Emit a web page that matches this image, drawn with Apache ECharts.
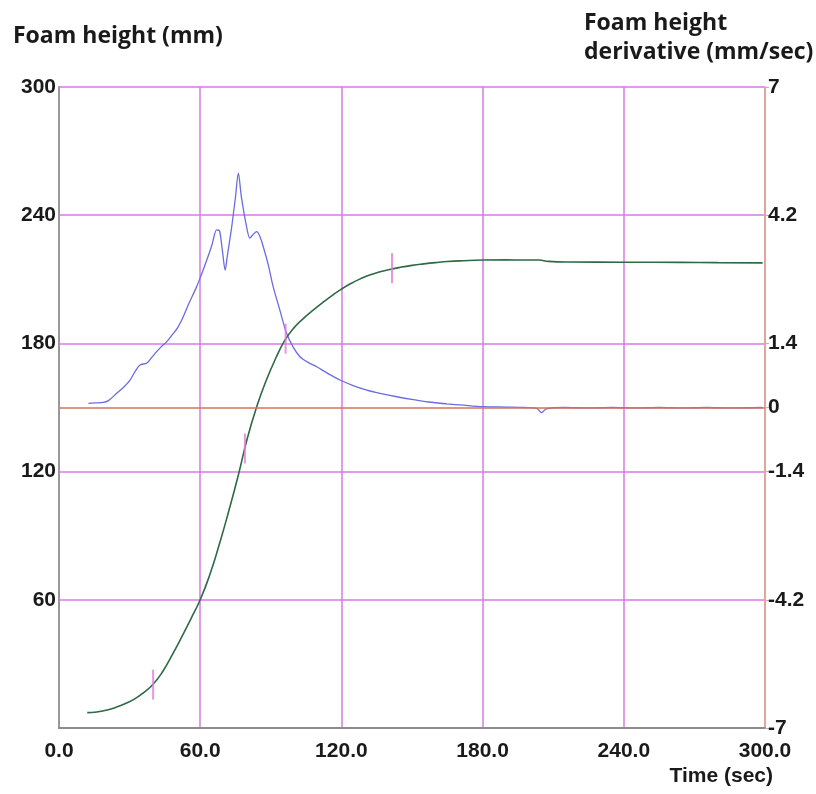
<!DOCTYPE html>
<html>
<head>
<meta charset="utf-8">
<script src="https://cdn.jsdelivr.net/npm/echarts@6/dist/echarts.min.js"></script>
<style>
html,body{margin:0;padding:0;background:#fff;}
#chart{width:816px;height:794px;}
</style>
</head>
<body>
<div id="chart"></div>
<script>
// Foam height (mm) vs time (sec)  -> left axis
const heightData = [
  [12,7.2],[16,7.5],[20,8.3],[24,9.6],[28,11.3],[32,13.5],[36,16.6],[40,20.5],[44,26.3],
  [48,34],[52,42.3],[56,51],[60,60],[64,71.5],[68,85.5],[72,101],[76,117.5],[80,135.5],
  [84,150.3],[88,162.5],[92,172.8],[96,181.5],[100,187.5],[104,191.8],[108,195.6],
  [112,199.1],[116,202.4],[120,205.4],[124,208.0],[128,210.2],[132,212.0],[136,213.4],
  [140,214.5],[145,215.6],[150,216.5],[155,217.2],[160,217.8],[165,218.3],[172,218.7],
  [180,219.0],[190,219.1],[198,219.0],[204,219.0],[208,218.4],[217,218.1],[240,218.0],
  [264,217.9],[280,217.8],[299,217.7]
];
// Foam height derivative (mm/sec) vs time (sec) -> right axis
const derivData = [
  [12.5,0.09],[15,0.1],[18.8,0.11],[21,0.15],[24.5,0.31],[27,0.42],[30.2,0.6],[32.5,0.8],
  [34.4,0.93],[37.3,0.97],[39.5,1.1],[41.5,1.22],[43.5,1.33],[45.8,1.44],[48,1.58],[50.5,1.75],
  [52.8,1.98],[55,2.25],[58.5,2.64],[60.5,2.9],[62.8,3.22],[65,3.55],[67,3.88],[68.2,3.86],
  [69.5,3.4],[70.6,3.0],[71.5,3.3],[73.4,3.95],[75,4.6],[76.2,5.12],[77.5,4.6],[79.7,3.95],
  [81.1,3.70],[82.5,3.78],[84,3.84],[85.5,3.72],[86.8,3.51],[89,3.1],[91,2.64],[94,2.1],
  [96.7,1.62],[99.5,1.32],[102.4,1.11],[106,0.98],[109.5,0.89],[114,0.75],[119.4,0.6],
  [125,0.48],[130.8,0.38],[136.4,0.31],[143,0.24],[150.6,0.17],[157,0.12],[164.8,0.08],
  [172,0.05],[180.3,0.02],[190,0.01],[198,0.0],[203,-0.02],[205.1,-0.11],[207,-0.03],
  [215,0.0],[225,-0.01],[235,0.0],[245,-0.01],[255,0.0],[265,-0.01],[275,0.0],[285,-0.01],[299,0.0]
];
// Cursor marks on the foam height curve
const markerData = [[40,20.3],[79,130.8],[96.3,182.2],[141.5,215.2]];
// Tick labels
const leftTicks = [60,120,180,240,300];
const rightTicks = [-7,-4.2,-1.4,0,1.4,4.2,7];
const xTicks = [0,60,120,180,240,300];

const gridColor = '#d67be3';
const tickFont = {fontFamily:'Liberation Sans', fontWeight:'bold', fontSize:21, color:'#1a1a1a'};
const titleFont = {fontFamily:'Open Sans', fontWeight:'bold', fontSize:23, color:'#1a1a1a'};

const chart = echarts.init(document.getElementById('chart'), null, {renderer:'canvas'});
chart.setOption({
  animation:false,
  backgroundColor:'#fff',
  title:[
    {text:'Foam height (mm)', left:8, top:20, textStyle:titleFont},
    {text:'Foam height\nderivative (mm/sec)', left:579, top:4, textStyle:Object.assign({lineHeight:29}, titleFont)}
  ],
  grid:{left:59, right:51, top:87, bottom:66, containLabel:false},
  xAxis:{
    type:'value', min:0, max:300, interval:60,
    axisLine:{show:true, onZero:false, lineStyle:{color:'#8c8c8c', width:2}},
    axisTick:{show:false},
    splitLine:{show:true, lineStyle:{color:gridColor, width:1.5}},
    axisLabel:Object.assign({margin:13, formatter:v=>v.toFixed(1), customValues:xTicks}, tickFont),
    name:'Time (sec)', nameLocation:'end', nameGap:0,
    nameTextStyle:Object.assign({align:'right', verticalAlign:'top', padding:[38,-8,0,0]}, tickFont)
  },
  yAxis:[
    {
      type:'value', min:0, max:300, interval:60, position:'left',
      axisLine:{show:true, lineStyle:{color:'#999999', width:2}},
      axisTick:{show:false},
      splitLine:{show:true, lineStyle:{color:gridColor, width:1.5}},
      axisLabel:Object.assign({margin:3, customValues:leftTicks}, tickFont)
    },
    {
      type:'value', min:-7, max:7, position:'right',
      axisLine:{show:true, lineStyle:{color:'#e7a2a0', width:2}},
      axisTick:{show:true, customValues:rightTicks, length:4, inside:false, lineStyle:{color:'#e7a2a0'}},
      splitLine:{show:false},
      axisLabel:Object.assign({margin:3, customValues:rightTicks, formatter:v=>String(Math.round(v*10)/10)}, tickFont)
    }
  ],
  series:[
    {
      name:'derivative', type:'line', yAxisIndex:1, data:derivData, showSymbol:false, smooth:0.3,
      lineStyle:{color:'#6b6ce0', width:1.3}, z:3,
      markLine:{silent:true, symbol:'none', label:{show:false},
        lineStyle:{color:'#d9705c', width:1.5, type:'solid'}, data:[{yAxis:0}]}
    },
    {
      name:'height', type:'line', yAxisIndex:0, data:heightData, showSymbol:false, smooth:0.5,
      lineStyle:{color:'#2e6a45', width:1.6}, z:4
    },
    {
      name:'marks', type:'scatter', yAxisIndex:0, data:markerData, symbol:'rect', symbolSize:[2,30],
      itemStyle:{color:'#e27ad8'}, z:5
    }
  ]
});
</script>
</body>
</html>
